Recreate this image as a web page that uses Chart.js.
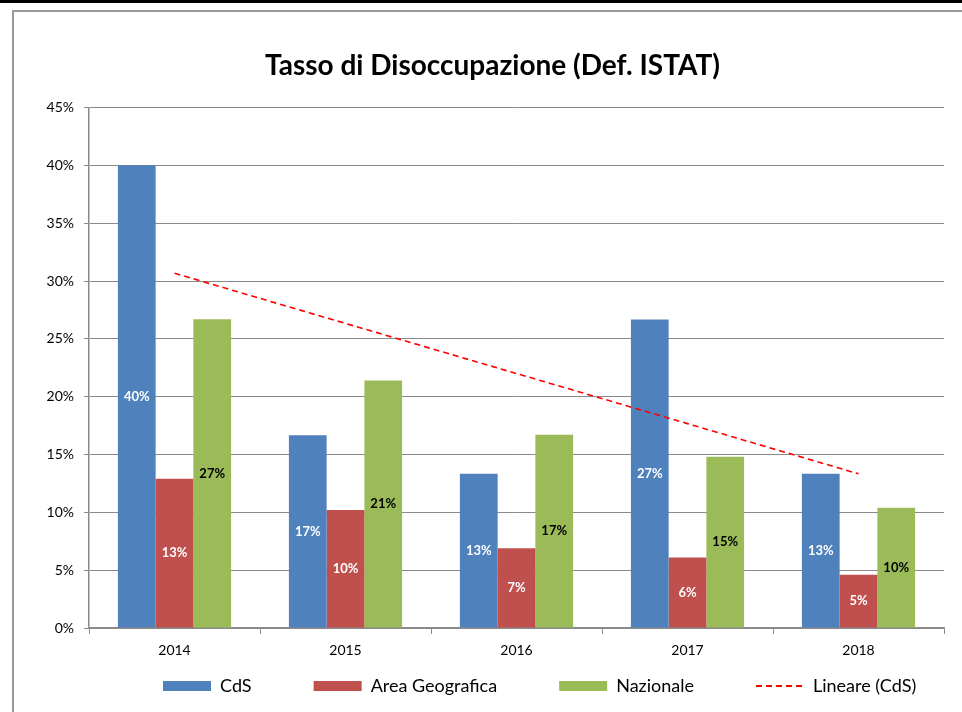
<!DOCTYPE html>
<html>
<head>
<meta charset="utf-8">
<script src="https://cdn.jsdelivr.net/npm/chart.js@4.4.1/dist/chart.umd.min.js"></script>
<style>
  html, body { margin: 0; padding: 0; background: #fff; }
  #wrap { width: 962px; height: 712px; position: relative; }
</style>
</head>
<body>
<div id="wrap"><canvas id="c" width="962" height="712"></canvas></div>
<script>
const categories = ['2014', '2015', '2016', '2017', '2018'];
const seriesNames = ['CdS', 'Area Geografica', 'Nazionale', 'Lineare (CdS)'];
const cdsValues = [40.0, 16.67, 13.33, 26.67, 13.33];
const areaValues = [12.9, 10.2, 6.9, 6.1, 4.6];
const nazionaleValues = [26.7, 21.4, 16.7, 14.8, 10.4];
const trendValues = [30.67, 26.33, 22.0, 17.67, 13.33];
const yTicks = [0, 5, 10, 15, 20, 25, 30, 35, 40, 45];
const titleText = 'Tasso di Disoccupazione (Def. ISTAT)';

const FONT = 'Lato, "Open Sans", "Liberation Sans", sans-serif';
const GRID = '#8a8a8a';

const frame = {
  id: 'frame',
  beforeDraw(chart) {
    const ctx = chart.ctx;
    ctx.save();
    ctx.fillStyle = '#ffffff';
    ctx.fillRect(0, 0, chart.width, chart.height);
    ctx.fillStyle = '#000000';
    ctx.fillRect(0, 0, chart.width, 3);
    ctx.strokeStyle = '#9a9a9a';
    ctx.lineWidth = 2;
    ctx.beginPath();
    ctx.moveTo(13, chart.height);
    ctx.lineTo(13, 11);
    ctx.lineTo(chart.width, 11);
    ctx.stroke();
    ctx.restore();
  }
};

const placeBlocks = {
  id: 'placeBlocks',
  afterLayout(chart) {
    const lg = chart.legend;
    if (lg) {
      const p = lg.options.labels.padding;
      lg.left = 163 - p;
      lg.right = 1200;
      lg.top = 677 - p;
      lg.bottom = chart.height;
    }
    const tb = chart.titleBlock;
    if (tb) {
      tb.left += 14;
      tb.right += 14;
    }
  }
};

const barLabels = {
  id: 'barLabels',
  afterDatasetsDraw(chart) {
    const ctx = chart.ctx;
    ctx.save();
    ctx.font = 'bold 13px ' + FONT;
    ctx.textAlign = 'center';
    ctx.textBaseline = 'middle';
    chart.data.datasets.forEach((ds, di) => {
      if (ds.type === 'line') return;
      const meta = chart.getDatasetMeta(di);
      ctx.fillStyle = ds.labelColor;
      meta.data.forEach((el, i) => {
        const v = ds.data[i];
        const cy = (el.y + el.base) / 2;
        ctx.fillText(Math.round(v) + '%', el.x, cy);
      });
    });
    ctx.restore();
  }
};

const chart = new Chart(document.getElementById('c'), {
  type: 'bar',
  data: {
    labels: categories,
    datasets: [
      { type: 'bar', label: seriesNames[0], data: cdsValues, backgroundColor: '#4F81BD', borderWidth: 0, labelColor: '#ffffff', categoryPercentage: 0.662, barPercentage: 1.0 },
      { type: 'bar', label: seriesNames[1], data: areaValues, backgroundColor: '#C0504D', borderWidth: 0, labelColor: '#ffffff', categoryPercentage: 0.662, barPercentage: 1.0 },
      { type: 'bar', label: seriesNames[2], data: nazionaleValues, backgroundColor: '#9BBB59', borderWidth: 0, labelColor: '#000000', categoryPercentage: 0.662, barPercentage: 1.0 },
      { type: 'line', label: seriesNames[3], data: trendValues, borderColor: '#FF0000', backgroundColor: '#FF0000', borderWidth: 1.6, borderDash: [6, 4], pointRadius: 0, fill: false, tension: 0, order: -1 }
    ]
  },
  options: {
    responsive: false,
    animation: false,
    devicePixelRatio: 1,
    layout: { padding: { left: 13, right: 18, top: 0, bottom: 0 } },
    plugins: {
      tooltip: { enabled: false },
      title: {
        display: true,
        text: titleText,
        color: '#000',
        font: { family: FONT, size: 28, weight: 'bold', lineHeight: 1.2 },
        padding: { top: 49.2, bottom: 24.7 }
      },
      legend: {
        display: true,
        position: 'bottom',
        align: 'start',
        maxHeight: 30,
        labels: {
          usePointStyle: true,
          pointStyleWidth: 48,
          boxHeight: 10,
          padding: 62,
          color: '#000',
          font: { family: FONT, size: 18 },
          generateLabels(ch) {
            const items = Chart.defaults.plugins.legend.labels.generateLabels(ch);
            items.forEach(it => {
              const ds = ch.data.datasets[it.datasetIndex];
              it.fontColor = '#000';
              if (ds.type === 'line') {
                it.pointStyle = 'line';
                it.strokeStyle = '#FF0000';
                it.lineWidth = 2;
                it.lineDash = [6, 4];
              } else {
                it.pointStyle = 'rect';
                it.lineWidth = 0;
              }
            });
            return items.sort((a, b) => a.datasetIndex - b.datasetIndex);
          }
        }
      }
    },
    scales: {
      x: {
        offset: true,
        grid: { display: true, drawOnChartArea: false, drawTicks: true, tickLength: 6, color: GRID, offset: true },
        border: { display: true, color: GRID, width: 1.5 },
        ticks: { color: '#000', font: { family: FONT, size: 14 }, padding: 8, maxRotation: 0 },
        afterFit(scale) { scale.height = 54; }
      },
      y: {
        min: 0,
        max: 45,
        afterBuildTicks(scale) { scale.ticks = yTicks.map(v => ({ value: v })); },
        grid: { color: GRID, lineWidth: 1, tickLength: 5, drawTicks: true },
        border: { display: true, color: GRID, width: 1.5 },
        ticks: { color: '#000', font: { family: FONT, size: 14 }, padding: 10, callback: v => v + '%' },
        afterFit(scale) { scale.width = 76; }
      }
    }
  },
  plugins: [frame, placeBlocks, barLabels]
});
</script>
</body>
</html>
